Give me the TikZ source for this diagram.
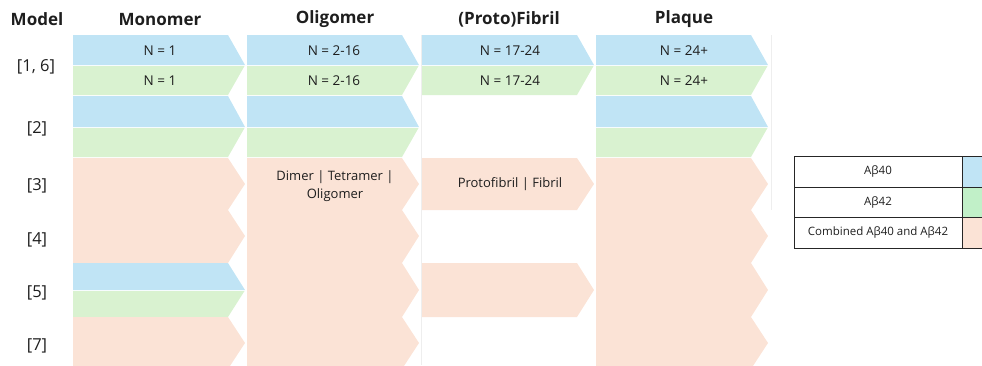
\documentclass[tikz,border=0pt]{standalone}
\usepackage{fontspec}
\setmainfont{Open Sans}
\definecolor{abblue}{HTML}{C0E4F5}
\definecolor{abgreen}{HTML}{D9F2D0}
\definecolor{abpeach}{HTML}{FBE3D6}
\definecolor{lgblue}{HTML}{C0E4F5}
\definecolor{lggreen}{HTML}{C1F0C8}
\definecolor{lgpeach}{HTML}{FBE3D6}
\definecolor{txt}{HTML}{1E1E1E}
\definecolor{faint}{HTML}{EEEEEE}
\newcommand\chpair[4]{%
  \fill[abblue] (#1,#2) -- ({#1+155},#2) -- ({#1+172},#3) -- (#1,#3) -- cycle;
  \fill[abgreen] (#1,{#3+1}) -- ({#1+171.5},{#3+1}) -- ({#1+155},#4) -- (#1,#4) -- cycle;}
\newcommand\chone[4]{%
  \fill[abpeach] (#1,#2) -- ({#1+155},#2) -- ({#1+172},#3) -- ({#1+155},#4) -- (#1,#4) -- cycle;}
\newcommand\chbig[1]{%
  \fill[abpeach] (#1,158) -- ({#1+155},158) -- ({#1+172},184) -- ({#1+155},210) -- ({#1+172},236)
   -- ({#1+155},263) -- ({#1+172},290) -- ({#1+155},317) -- ({#1+172},343) -- ({#1+155},369)
   -- (#1,369) -- cycle;}
\begin{document}
\begin{tikzpicture}[x=1pt,y=-1pt,
  hdr/.style={font=\fontsize{17}{20}\selectfont\bfseries, text=txt, inner sep=0pt},
  rowlab/.style={font=\fontsize{16.5}{18}\selectfont, text=txt, inner sep=0pt},
  cell/.style={font=\fontsize{13.5}{18}\selectfont, text=txt, inner sep=0pt, align=center},
  cellb/.style={font=\fontsize{13}{18}\selectfont, text=txt, inner sep=0pt, align=center},
  leg/.style={font=\fontsize{11.5}{12}\selectfont, text=txt, inner sep=0pt},
  legline/.style={draw=black!85, line width=1pt}]
\useasboundingbox (0,0) rectangle (982,365);
\clip (0,0) rectangle (982,365);
% faint grid lines
\draw[faint, line width=0.8pt] (421,35) -- (421,365);
\draw[faint, line width=0.8pt] (771,35) -- (771,210);
% Monomer column
\chpair{73}{35}{65}{95}
\chpair{73}{96}{127}{157}
\chone{73}{158}{184}{210}
\chone{73}{210}{236}{263}
\chpair{73}{263}{290}{317}
\chone{73}{317}{343}{369}
% Oligomer column
\chpair{247}{35}{65}{95}
\chpair{247}{96}{127}{157}
\chbig{247}
% (Proto)Fibril column
\chpair{422}{35}{65}{95}
\chone{422}{158}{184}{210}
\chone{422}{263}{290}{317}
% Plaque column
\chpair{596}{35}{65}{95}
\chpair{596}{96}{127}{157}
\chbig{596}
% headers
\node[hdr] (hmodel) at (37,19.5) {Model};
\node[hdr] (hmono) at (160,19.5) {Monomer};
\node[hdr] (holig) at (335,19.5) {Oligomer};
\node[hdr] (hfib) at (509,19.5) {(Proto)Fibril};
\node[hdr] (hplaq) at (684,19.5) {Plaque};
% row labels
\node[rowlab] (r16) at (36,67) {[1, 6]};
\node[rowlab] (r2) at (37,129) {[2]};
\node[rowlab] (r3) at (37,185.5) {[3]};
\node[rowlab] (r4) at (37,239.5) {[4]};
\node[rowlab] (r5) at (37,292.5) {[5]};
\node[rowlab] (r7) at (37,345.5) {[7]};
% cell texts
\node[cell] (m1) at (160,50.5) {N = 1};
\node[cell] (m2) at (160,80.5) {N = 1};
\node[cell] (o1) at (334,50.5) {N = 2-16};
\node[cell] (o2) at (334,80.5) {N = 2-16};
\node[cell] (f1) at (510,50.5) {N = 17-24};
\node[cell] (f2) at (510,80.5) {N = 17-24};
\node[cell] (p1) at (684,50.5) {N = 24+};
\node[cell] (p2) at (684,80.5) {N = 24+};
\node[cellb, anchor=north] (odimer) at (335,170) {Dimer | Tetramer |\\Oligomer};
\node[cellb] (fproto) at (510,184.5) {Protofibril | Fibril};
% legend
\fill[lgblue] (962,156) rectangle (990,187);
\fill[lggreen] (962,187) rectangle (990,217);
\fill[lgpeach] (962,217) rectangle (990,248);
\draw[legline] (794,156) rectangle (990,248);
\draw[legline] (794,187) -- (990,187);
\draw[legline] (794,217) -- (990,217);
\draw[legline] (962,156) -- (962,248);
\node[leg] (l1) at (878,171.5) {Aβ40};
\node[leg] (l2) at (878,202) {Aβ42};
\node[leg] (l3) at (878,232.5) {Combined Aβ40 and Aβ42};
\end{tikzpicture}
\end{document}
